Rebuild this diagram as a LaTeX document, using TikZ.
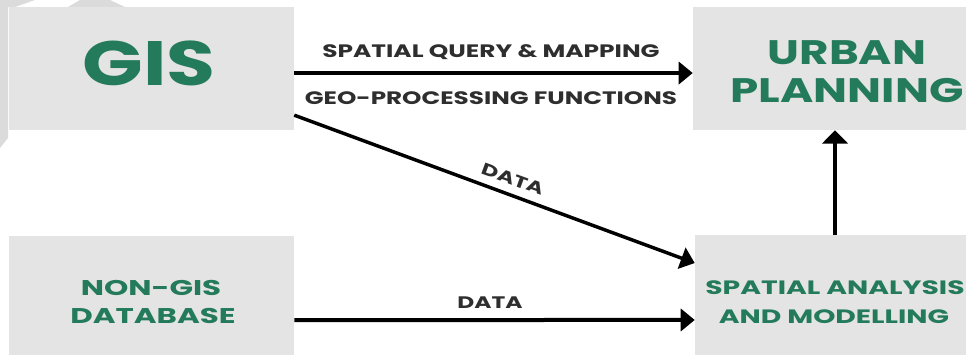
\documentclass[tikz,border=0pt]{standalone}
\usepackage{graphicx}
\usepackage{fontspec}
\setmainfont{Poppins}
\usetikzlibrary{arrows.meta}
\definecolor{boxgray}{HTML}{E4E4E4}
\definecolor{bandgray}{HTML}{DBDBDB}
\definecolor{gisgreen}{HTML}{237B5C}
\definecolor{labelgray}{HTML}{2E2E2E}
\newcommand{\wideText}[2]{\scalebox{#1}[1]{#2}}
\begin{document}
\begin{tikzpicture}[x=0.75pt,y=-0.75pt,
  box/.style={rectangle, fill=boxgray, draw=none, inner sep=0pt},
  boxtext/.style={font=\bfseries, text=gisgreen, anchor=base, inner sep=0pt},
  lbl/.style={font=\bfseries\fontsize{13.5}{15}\selectfont, text=labelgray, anchor=base, inner sep=0pt},
  arr/.style={line width=3pt, -{Triangle[length=10.5pt,width=16.5pt]}}]
\useasboundingbox (0,0) rectangle (966,354);
\clip (0,0) rectangle (966,354);
% faint background shapes
\fill[bandgray] (0,0) -- (8,0) -- (8,138) -- (0,148) -- cycle;
\fill[bandgray] (8,0) -- (35,0) -- (15,7) -- (8,7) -- cycle;
\fill[bandgray] (80,0) -- (110,0) -- (125,7) -- (68,7) -- cycle;
% boxes
\node[box, minimum width=213.75pt, minimum height=92.25pt] (gis) at (151.5,68.5) {};
\node[box, minimum width=231pt, minimum height=92.25pt] (urban) at (847,68.5) {};
\node[box, minimum width=213.75pt, minimum height=98.25pt] (nongis) at (151.5,301.5) {};
\node[box, minimum width=210pt, minimum height=101.25pt] (spatial) at (835,302.5) {};
% box texts
\node[boxtext, font=\bfseries\fontsize{47}{50}\selectfont] (gisT) at (149,85) {\wideText{1.27}{GIS}};
\node[boxtext, font=\bfseries\fontsize{25.5}{27}\selectfont] (urbanT1) at (847,64) {\wideText{1.33}{URBAN}};
\node[boxtext, font=\bfseries\fontsize{25.5}{27}\selectfont] (urbanT2) at (847,102) {\wideText{1.33}{PLANNING}};
\node[boxtext, font=\bfseries\fontsize{16}{18}\selectfont] (nongisT1) at (151,295) {\wideText{1.45}{NON-GIS}};
\node[boxtext, font=\bfseries\fontsize{16}{18}\selectfont] (nongisT2) at (153,323) {\wideText{1.45}{DATABASE}};
\node[boxtext, font=\bfseries\fontsize{14.5}{16}\selectfont] (spatialT1) at (835,294) {\wideText{1.46}{SPATIAL ANALYSIS}};
\node[boxtext, font=\bfseries\fontsize{14.5}{16}\selectfont] (spatialT2) at (834,323) {\wideText{1.46}{AND MODELLING}};
% connectors
\draw[arr] ([yshift=-3.4pt]gis.east) -- ([yshift=-3.4pt]urban.west);
\draw[arr, line width=2.6pt] ([yshift=-35pt]gis.east) -- ([yshift=29.6pt]spatial.west);
\draw[arr] ([yshift=-13.9pt]nongis.east) -- ([yshift=-13.1pt]spatial.west);
\draw[arr, -{Triangle[length=10pt,width=19pt]}] (spatial.north) -- (spatial.north |- urban.south);
% labels
\node[lbl] (l1) at (491,57) {\wideText{1.38}{SPATIAL QUERY \& MAPPING}};
\node[lbl] (l2) at (491,104) {\wideText{1.37}{GEO-PROCESSING FUNCTIONS}};
\node[lbl, font=\bfseries\fontsize{12.5}{14}\selectfont, anchor=center, rotate=-20.1] (l3) at (513,179) {\wideText{1.4}{DATA}};
\node[lbl, font=\bfseries\fontsize{12.5}{14}\selectfont] (l4) at (490,308) {\wideText{1.4}{DATA}};
\end{tikzpicture}
\end{document}
